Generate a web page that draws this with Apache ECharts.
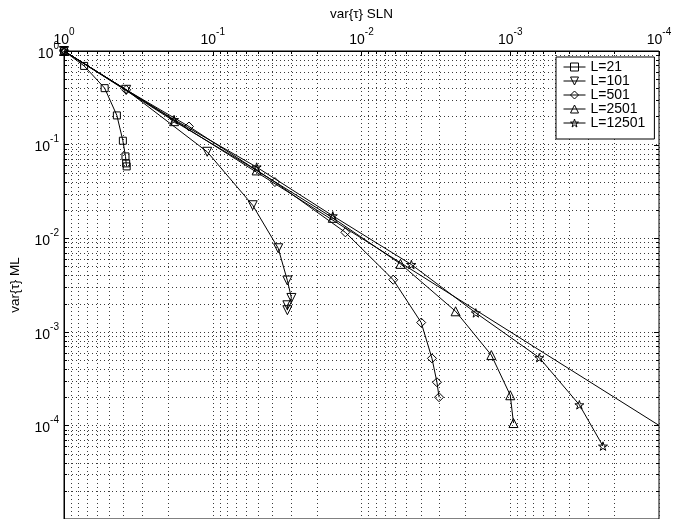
<!DOCTYPE html>
<html><head><meta charset="utf-8">
<script src="https://cdn.jsdelivr.net/npm/echarts@6/dist/echarts.min.js"></script>
<style>html,body{margin:0;padding:0;background:#fff}#c{width:682px;height:519px}</style>
</head><body><div id="c"></div>
<script>
// ---- data ----
const seriesNames = ['L=21', 'L=101', 'L=501', 'L=2501', 'L=12501'];
const l21X = [1, 0.732, 0.533, 0.441, 0.402, 0.386, 0.382, 0.379];
const l21Y = [1, 0.693, 0.401, 0.205, 0.110, 0.0748, 0.0630, 0.0585];
const l101X = [1, 0.382, 0.109, 0.0539, 0.0363, 0.0315, 0.0296, 0.0315, 0.0315];
const l101Y = [1, 0.385, 0.0838, 0.0225, 0.00781, 0.00353, 0.00230, 0.00192, 0.00170];
const l501X = [1, 0.382, 0.1445, 0.0382, 0.01284, 0.00612, 0.00397, 0.00336, 0.00311, 0.00301];
const l501Y = [1, 0.385, 0.156, 0.0398, 0.01155, 0.00360, 0.001256, 0.000520, 0.000289, 0.000200];
const l2501X = [1, 0.182, 0.0507, 0.0156, 0.00547, 0.00233, 0.00134, 0.00100, 0.000951];
const l2501Y = [1, 0.178, 0.0530, 0.0165, 0.00532, 0.001656, 0.000564, 0.000210, 0.000106];
const l12501X = [1, 0.182, 0.0507, 0.0156, 0.00462, 0.001704, 0.000638, 0.000343, 0.000238];
const l12501Y = [1, 0.185, 0.0575, 0.01734, 0.00523, 0.001592, 0.000529, 0.000166, 0.0000601];
const refX = [1, 0.0001];
const refY = [1, 0.0001];
const xMin = 1e-4, xMax = 1, yMin = 1e-5, yMax = 1;

(function () {
const FONT = '"Liberation Sans", Arial, Helvetica, sans-serif';
const zip = (a, b) => a.map((v, i) => [v, b[i]]);
const starPath = 'path://M50,0 L61,35 L98,35 L68,57 L79,91 L50,70 L21,91 L32,57 L2,35 L39,35 Z';

function powLabel(v) {
  const e = Math.round(Math.log10(v));
  if (e < -4) return '';
  return '{b|10}{s|' + e + '}';
}
const richLab = {
  b: {fontSize: 14, fontFamily: FONT, color: '#000', padding: [6, 0, 0, 0], verticalAlign: 'bottom'},
  s: {fontSize: 10, fontFamily: FONT, color: '#000', verticalAlign: 'top', lineHeight: 11}
};
const hollow = {color: 'rgba(255,255,255,0)', borderColor: '#000', borderWidth: 1};

function mk(name, xs, ys, symbol, size, rot) {
  return {
    type: 'line', name: name, data: zip(xs, ys),
    symbol: symbol, symbolSize: size, symbolRotate: rot || 0, symbolKeepAspect: true,
    showSymbol: true, showAllSymbol: true,
    lineStyle: {color: '#000', width: 1},
    itemStyle: hollow,
    emphasis: {disabled: true}, z: 4, clip: true
  };
}

const chart = echarts.init(document.getElementById('c'), null, {renderer: 'canvas'});
const gridLine = {color: '#3a3a3a', width: 1, type: [1, 3]};
chart.setOption({
  animation: false,
  backgroundColor: '#fff',
  grid: {left: 59, right: 23, top: 51, height: 470.5, show: true, borderColor: '#000', borderWidth: 1, backgroundColor: 'rgba(0,0,0,0)'},
  xAxis: {
    type: 'log', logBase: 10, min: xMin, max: xMax, inverse: true, position: 'top',
    splitNumber: 4,
    name: 'var{τ} SLN', nameLocation: 'middle', nameGap: 30,
    nameTextStyle: {fontSize: 13.5, fontFamily: FONT, color: '#000'},
    axisLine: {show: true, lineStyle: {color: '#000', width: 1}},
    axisTick: {show: true, inside: true, length: 5, lineStyle: {color: '#000'}},
    axisLabel: {margin: 4, formatter: powLabel, rich: richLab, showMinLabel: true, showMaxLabel: true},
    splitLine: {show: true, lineStyle: gridLine}
  },
  yAxis: {
    type: 'log', logBase: 10, min: yMin, max: yMax,
    splitNumber: 5,
    name: 'var{τ} ML', nameLocation: 'middle', nameGap: 42,
    nameTextStyle: {fontSize: 13.5, fontFamily: FONT, color: '#000'},
    axisLine: {show: true, lineStyle: {color: '#000', width: 1}},
    axisTick: {show: true, inside: true, length: 5, lineStyle: {color: '#000'}},
    axisLabel: {margin: 5, formatter: powLabel, rich: richLab, showMinLabel: true, showMaxLabel: true},
    splitLine: {show: true, lineStyle: gridLine}
  },
  legend: {
    orient: 'vertical', left: 556, top: 57,
    data: seriesNames,
    backgroundColor: '#fff', borderColor: '#000', borderWidth: 1, borderRadius: 0,
    padding: [3, 9, 9, 7], itemGap: 0, itemWidth: 22, itemHeight: 10,
    itemStyle: hollow,
    lineStyle: {color: '#000', width: 1},
    textStyle: {fontSize: 14, fontFamily: FONT, color: '#000', lineHeight: 13.6},
    selectedMode: false, z: 10
  },
  series: [
    {type: 'line', data: zip(refX, refY), symbol: 'none', lineStyle: {color: '#000', width: 1}, z: 3, emphasis: {disabled: true}, silent: true},
    mk(seriesNames[0], l21X, l21Y, 'rect', 7),
    mk(seriesNames[1], l101X, l101Y, 'triangle', 9, 180),
    mk(seriesNames[2], l501X, l501Y, 'diamond', 9),
    mk(seriesNames[3], l2501X, l2501Y, 'triangle', 9),
    mk(seriesNames[4], l12501X, l12501Y, starPath, 9)
  ]
});

const els = [];
const c = v => Math.round(v) + 0.5;
const p00 = chart.convertToPixel({gridIndex: 0}, [xMax, yMax]);
const p11 = chart.convertToPixel({gridIndex: 0}, [xMin, yMin]);
const gL = p00[0], gT = p00[1], gR = p11[0], gB = p11[1];
const ls = {stroke: '#3a3a3a', lineWidth: 1, lineDash: [1, 3]};
const tk = {stroke: '#000', lineWidth: 1};
for (let k = 0; k < 4; k++) {
  for (let m = 2; m <= 9; m++) {
    const v = m * Math.pow(10, -k - 1);
    const px = c(chart.convertToPixel({xAxisIndex: 0}, v));
    els.push({type: 'line', silent: true, z: 1, shape: {x1: px, y1: gT, x2: px, y2: gB}, style: ls});
    els.push({type: 'line', silent: true, z: 5, shape: {x1: px, y1: gT, x2: px, y2: gT + 3}, style: tk});
  }
}
for (let k = 0; k < 5; k++) {
  for (let m = 2; m <= 9; m++) {
    const v = m * Math.pow(10, -k - 1);
    const py = c(chart.convertToPixel({yAxisIndex: 0}, v));
    els.push({type: 'line', silent: true, z: 1, shape: {x1: gL, y1: py, x2: gR, y2: py}, style: ls});
    els.push({type: 'line', silent: true, z: 5, shape: {x1: gL, y1: py, x2: gL + 3, y2: py}, style: tk});
    els.push({type: 'line', silent: true, z: 5, shape: {x1: gR - 3, y1: py, x2: gR, y2: py}, style: tk});
  }
  const pyM = c(chart.convertToPixel({yAxisIndex: 0}, Math.pow(10, -k)));
  els.push({type: 'line', silent: true, z: 5, shape: {x1: gR - 5, y1: pyM, x2: gR, y2: pyM}, style: tk});
}
chart.setOption({graphic: {elements: els}});
})();
</script>
</body></html>
